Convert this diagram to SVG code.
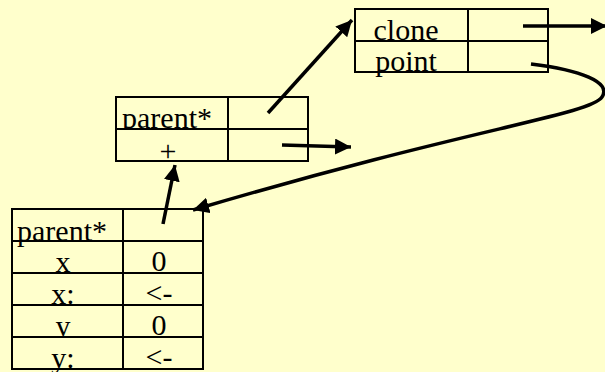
<svg xmlns="http://www.w3.org/2000/svg" width="605" height="372" viewBox="0 0 605 372">
  <style>
    .cell { fill: #FFFFCC; stroke: #000; stroke-width: 2; }
    .div { stroke: #000; stroke-width: 2; }
    .t { font-family: "Liberation Serif", "Times New Roman", serif; font-size: 30px; fill: #000; text-anchor: middle; }
    .conn { fill: none; stroke: #000; stroke-width: 3.5; marker-end: url(#head); }
  </style>
  <defs>
    <marker id="head" markerUnits="userSpaceOnUse" markerWidth="16" markerHeight="16" viewBox="0 0 16 16" refX="16" refY="8" orient="auto">
      <path d="M0,0 L16,8 L0,16 z" fill="#000"/>
    </marker>
  </defs>

  <rect width="605" height="372" fill="#FFFFCC"/>

  <!-- object with clone / point slots -->
  <g id="proto">
    <rect class="cell" x="355" y="9" width="193" height="32"/>
    <text class="t" x="406" y="39.5">clone</text>
    <rect class="cell" x="355" y="41" width="193" height="31"/>
    <text class="t" x="406" y="71">point</text>
    <line class="div" x1="468" y1="9" x2="468" y2="72"/>
  </g>

  <!-- object with parent* / + slots -->
  <g id="adder">
    <rect class="cell" x="116" y="97" width="192" height="32"/>
    <text class="t" x="167" y="127.5">parent*</text>
    <rect class="cell" x="116" y="129" width="192" height="32"/>
    <text class="t" x="168" y="161">+</text>
    <line class="div" x1="228" y1="97" x2="228" y2="161"/>
  </g>

  <!-- point object with x / y slots -->
  <g id="point">
    <rect class="cell" x="12" y="209" width="191" height="32"/>
    <rect class="cell" x="12" y="241" width="191" height="32"/>
    <text class="t" x="63" y="272">x</text>
    <text class="t" x="159" y="271">0</text>
    <rect class="cell" x="12" y="273" width="191" height="32"/>
    <text class="t" x="63" y="304">x:</text>
    <text class="t" x="159" y="303">&lt;-</text>
    <rect class="cell" x="12" y="305" width="191" height="32"/>
    <text class="t" x="63" y="336">y</text>
    <text class="t" x="159" y="335">0</text>
    <rect class="cell" x="12" y="337" width="191" height="32"/>
    <text class="t" x="63" y="368">y:</text>
    <text class="t" x="159" y="367">&lt;-</text>
    <line class="div" x1="123" y1="209" x2="123" y2="369"/>
    <text class="t" x="62" y="241">parent*</text>
  </g>

  <!-- slot pointers -->
  <g id="connectors">
    <path class="conn" d="M268,113 L352,20"/>
    <path class="conn" d="M523,26 L607,26"/>
    <path class="conn" d="M282,145 L351,147"/>
    <path class="conn" d="M163,224 L175,165"/>
    <path class="conn" d="M531,64 C580,70 612,82 602,97 C590,115 470,128 193,210"/>
  </g>
</svg>
